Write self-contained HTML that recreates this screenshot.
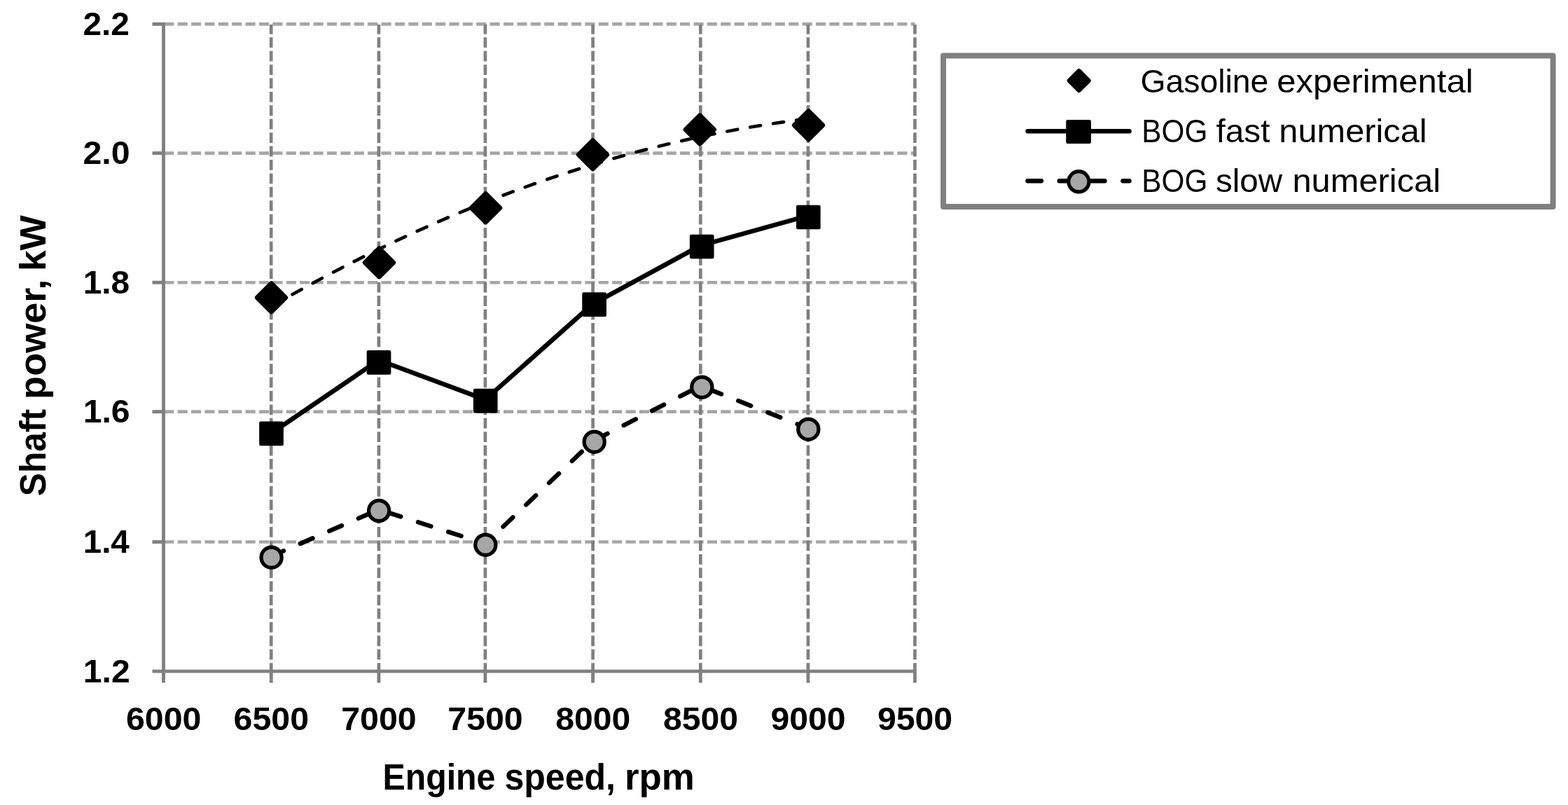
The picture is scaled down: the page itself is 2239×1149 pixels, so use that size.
<!DOCTYPE html>
<html lang="en">
<head>
<meta charset="utf-8">
<title>Shaft power vs engine speed</title>
<style>
html,body{margin:0;padding:0;background:#fff;}
body{width:2239px;height:1149px;overflow:hidden;}
svg{display:block;}
text{font-family:"Liberation Sans",sans-serif;fill:#000;}
.b{font-weight:bold;}
</style>
</head>
<body>
<svg width="2239" height="1149" viewBox="0 0 2239 1149" role="img" aria-label="Shaft power versus engine speed">
<rect x="0" y="0" width="2239" height="1149" fill="#fff"/>
<!-- horizontal gridlines -->
<g stroke="#a6a6a6" stroke-width="4.6" stroke-dasharray="14.2 5.19" fill="none">
<line x1="234.2" y1="34.4" x2="1306.4" y2="34.4"/>
<line x1="234.2" y1="218.6" x2="1306.4" y2="218.6"/>
<line x1="234.2" y1="403.2" x2="1306.4" y2="403.2"/>
<line x1="234.2" y1="587.6" x2="1306.4" y2="587.6"/>
<line x1="234.2" y1="773.5" x2="1306.4" y2="773.5"/>
</g>
<!-- vertical gridlines -->
<g stroke="#808080" stroke-width="4.7" stroke-dasharray="14.8 4.61" stroke-dashoffset="1.1" fill="none">
<line x1="387.2" y1="35" x2="387.2" y2="956"/>
<line x1="540.9" y1="35" x2="540.9" y2="956"/>
<line x1="692.9" y1="35" x2="692.9" y2="956"/>
<line x1="846.6" y1="35" x2="846.6" y2="956"/>
<line x1="1000.3" y1="35" x2="1000.3" y2="956"/>
<line x1="1153.9" y1="35" x2="1153.9" y2="956"/>
<line x1="1306.4" y1="35" x2="1306.4" y2="956"/>
</g>
<!-- axes and ticks -->
<g stroke="#808080" stroke-width="4.9" fill="none">
<line x1="233.5" y1="32.1" x2="233.5" y2="974.6"/>
<line x1="217.5" y1="958.1" x2="1308.7" y2="958.1"/>
<line x1="217.5" y1="34.4" x2="233.5" y2="34.4"/>
<line x1="217.5" y1="218.6" x2="233.5" y2="218.6"/>
<line x1="217.5" y1="403.2" x2="233.5" y2="403.2"/>
<line x1="217.5" y1="587.6" x2="233.5" y2="587.6"/>
<line x1="217.5" y1="773.5" x2="233.5" y2="773.5"/>
<line x1="387.2" y1="958.1" x2="387.2" y2="974.6"/>
<line x1="540.9" y1="958.1" x2="540.9" y2="974.6"/>
<line x1="692.9" y1="958.1" x2="692.9" y2="974.6"/>
<line x1="846.6" y1="958.1" x2="846.6" y2="974.6"/>
<line x1="1000.3" y1="958.1" x2="1000.3" y2="974.6"/>
<line x1="1153.9" y1="958.1" x2="1153.9" y2="974.6"/>
<line x1="1306.4" y1="958.1" x2="1306.4" y2="974.6"/>
</g>
<!-- trendline -->
<path d="M387.5 437.3 Q771.0 215.8 1154.5 169.4" fill="none" stroke="#000" stroke-width="4.7" stroke-linecap="round" stroke-dasharray="15.0 18.3" stroke-dashoffset="-1.2"/>
<!-- series lines -->
<polyline points="387.2,618.4 540.9,514.0 692.9,570.4 846.6,433.8 1000.3,350.5 1153.9,307.9" fill="none" stroke="#000" stroke-width="6.6" stroke-linejoin="round" stroke-linecap="round"/>
<polyline points="387.2,794.0 540.9,727.3 692.9,776.0 846.6,629.6 1000.3,550.8 1153.9,611.4" fill="none" stroke="#000" stroke-width="6.4" stroke-linejoin="round" stroke-linecap="round" stroke-dasharray="19.3 26"/>
<!-- markers -->
<path d="M387.5 404.6L407.6 424.7L387.5 444.8L367.4 424.7Z" fill="#000" stroke="#000" stroke-width="7.0" stroke-linejoin="round"/>
<path d="M541.5 354.6L561.6 374.7L541.5 394.8L521.4 374.7Z" fill="#000" stroke="#000" stroke-width="7.0" stroke-linejoin="round"/>
<path d="M693.5 276.6L713.6 296.7L693.5 316.8L673.4 296.7Z" fill="#000" stroke="#000" stroke-width="7.0" stroke-linejoin="round"/>
<path d="M846.5 200.6L866.6 220.7L846.5 240.8L826.4 220.7Z" fill="#000" stroke="#000" stroke-width="7.0" stroke-linejoin="round"/>
<path d="M999.3 164.9L1019.4 185.0L999.3 205.1L979.2 185.0Z" fill="#000" stroke="#000" stroke-width="7.0" stroke-linejoin="round"/>
<path d="M1154.5 158.7L1174.6 178.8L1154.5 198.9L1134.4 178.8Z" fill="#000" stroke="#000" stroke-width="7.0" stroke-linejoin="round"/>
<rect x="372.4" y="603.8" width="30.2" height="30.2" fill="#000" stroke="#000" stroke-width="4.5" stroke-linejoin="round"/>
<rect x="525.9" y="502.3" width="30.2" height="30.2" fill="#000" stroke="#000" stroke-width="4.5" stroke-linejoin="round"/>
<rect x="678.1" y="557.0" width="30.2" height="30.2" fill="#000" stroke="#000" stroke-width="4.5" stroke-linejoin="round"/>
<rect x="833.5" y="419.5" width="30.2" height="30.2" fill="#000" stroke="#000" stroke-width="4.5" stroke-linejoin="round"/>
<rect x="987.1" y="336.9" width="30.2" height="30.2" fill="#000" stroke="#000" stroke-width="4.5" stroke-linejoin="round"/>
<rect x="1139.2" y="294.9" width="30.2" height="30.2" fill="#000" stroke="#000" stroke-width="4.5" stroke-linejoin="round"/>
<circle cx="387.6" cy="795.7" r="14.6" fill="#a6a6a6" stroke="#000" stroke-width="5.2"/>
<circle cx="541.1" cy="729.0" r="14.6" fill="#a6a6a6" stroke="#000" stroke-width="5.2"/>
<circle cx="693.3" cy="777.7" r="14.6" fill="#a6a6a6" stroke="#000" stroke-width="5.2"/>
<circle cx="848.7" cy="630.7" r="14.6" fill="#a6a6a6" stroke="#000" stroke-width="5.2"/>
<circle cx="1002.3" cy="552.7" r="14.6" fill="#a6a6a6" stroke="#000" stroke-width="5.2"/>
<circle cx="1154.3" cy="612.7" r="14.6" fill="#a6a6a6" stroke="#000" stroke-width="5.2"/>
<!-- y tick labels -->
<g class="b" font-size="47.0">
<text y="49.8"><tspan x="118.46" textLength="66.52" lengthAdjust="spacingAndGlyphs">2.2</tspan></text>
<text y="234.0"><tspan x="118.44" textLength="67.14" lengthAdjust="spacingAndGlyphs">2.0</tspan></text>
<text y="418.6"><tspan x="118.70" textLength="66.48" lengthAdjust="spacingAndGlyphs">1.8</tspan></text>
<text y="603.0"><tspan x="118.68" textLength="66.91" lengthAdjust="spacingAndGlyphs">1.6</tspan></text>
<text y="788.9"><tspan x="118.81" textLength="65.97" lengthAdjust="spacingAndGlyphs">1.4</tspan></text>
<text y="973.5"><tspan x="118.79" textLength="66.88" lengthAdjust="spacingAndGlyphs">1.2</tspan></text>
</g>
<!-- x tick labels -->
<g class="b" font-size="47.0">
<text y="1041.6"><tspan x="179.94" textLength="107.39" lengthAdjust="spacingAndGlyphs">6000</tspan></text>
<text y="1041.6"><tspan x="333.64" textLength="107.39" lengthAdjust="spacingAndGlyphs">6500</tspan></text>
<text y="1041.6"><tspan x="487.15" textLength="107.51" lengthAdjust="spacingAndGlyphs">7000</tspan></text>
<text y="1041.6"><tspan x="639.15" textLength="107.51" lengthAdjust="spacingAndGlyphs">7500</tspan></text>
<text y="1041.6"><tspan x="793.31" textLength="107.04" lengthAdjust="spacingAndGlyphs">8000</tspan></text>
<text y="1041.6"><tspan x="947.01" textLength="107.04" lengthAdjust="spacingAndGlyphs">8500</tspan></text>
<text y="1041.6"><tspan x="1100.42" textLength="107.16" lengthAdjust="spacingAndGlyphs">9000</tspan></text>
<text y="1041.6"><tspan x="1252.92" textLength="107.16" lengthAdjust="spacingAndGlyphs">9500</tspan></text>
</g>
<!-- axis titles -->
<text class="b" font-size="52.6" y="1127.4"><tspan x="546.53" textLength="160.92" lengthAdjust="spacingAndGlyphs">Engine</tspan> <tspan x="720.50" textLength="158.46" lengthAdjust="spacingAndGlyphs">speed,</tspan> <tspan x="891.95" textLength="99.83" lengthAdjust="spacingAndGlyphs">rpm</tspan></text>
<text class="b" font-size="52.6" transform="translate(65.2 706.5) rotate(-90)" y="0"><tspan x="-1.75" textLength="124.38" lengthAdjust="spacingAndGlyphs">Shaft</tspan> <tspan x="136.64" textLength="171.13" lengthAdjust="spacingAndGlyphs">power,</tspan> <tspan x="319.49" textLength="79.90" lengthAdjust="spacingAndGlyphs">kW</tspan></text>
<!-- legend -->
<rect x="1347" y="79.6" width="870.6" height="215.4" fill="#fff" stroke="#808080" stroke-width="8" stroke-linejoin="round"/>
<path d="M1540.7 101.5L1554.3 115.1L1540.7 128.7L1527.1 115.1Z" fill="#000" stroke="#000" stroke-width="6.8" stroke-linejoin="round"/>
<line x1="1467.5" y1="187.3" x2="1612.5" y2="187.3" stroke="#000" stroke-width="6.5" stroke-linecap="round"/>
<rect x="1524.5" y="173.2" width="31.2" height="29.6" fill="#000" stroke="#000" stroke-width="4.5" stroke-linejoin="round"/>
<line x1="1467.5" y1="258.3" x2="1612.5" y2="258.3" stroke="#000" stroke-width="6.5" stroke-linecap="round" stroke-dasharray="19.3 26"/>
<circle cx="1540.4" cy="259.3" r="14.6" fill="#a6a6a6" stroke="#000" stroke-width="5.2"/>
<g font-size="46.5">
<text y="132.0"><tspan x="1628.39" textLength="182.94" lengthAdjust="spacingAndGlyphs">Gasoline</tspan> <tspan x="1823.24" textLength="280.30" lengthAdjust="spacingAndGlyphs">experimental</tspan></text>
<text y="203.1"><tspan x="1630.34" textLength="94.00" lengthAdjust="spacingAndGlyphs">BOG</tspan> <tspan x="1736.54" textLength="76.87" lengthAdjust="spacingAndGlyphs">fast</tspan> <tspan x="1826.39" textLength="211.22" lengthAdjust="spacingAndGlyphs">numerical</tspan></text>
<text y="274.1"><tspan x="1630.34" textLength="94.00" lengthAdjust="spacingAndGlyphs">BOG</tspan> <tspan x="1735.96" textLength="95.13" lengthAdjust="spacingAndGlyphs">slow</tspan> <tspan x="1845.48" textLength="211.54" lengthAdjust="spacingAndGlyphs">numerical</tspan></text>
</g>
</svg>
</body>
</html>
